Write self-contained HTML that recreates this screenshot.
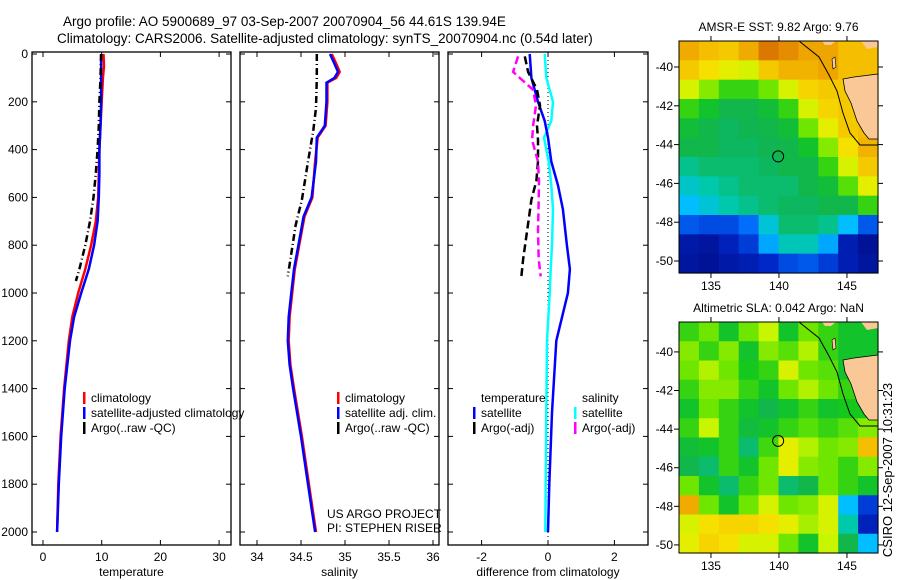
<!DOCTYPE html>
<html><head><meta charset="utf-8"><style>
html,body{margin:0;padding:0;background:#fff;}
svg{display:block;font-family:"Liberation Sans",Arial,sans-serif;}
</style></head><body>
<svg id="fig" width="900" height="580" viewBox="0 0 900 580" xmlns="http://www.w3.org/2000/svg">
<text x="63" y="26" font-size="13.5">Argo profile: AO 5900689_97 03-Sep-2007 20070904_56 44.61S 139.94E</text>
<text x="57" y="43" font-size="13.5">Climatology: CARS2006. Satellite-adjusted climatology: synTS_20070904.nc (0.54d later)</text>
<text transform="translate(892,470) rotate(-90)" text-anchor="middle" font-size="13">CSIRO 12-Sep-2007 10:31:23</text>
<text x="327" y="518" font-size="12">US ARGO PROJECT</text>
<text x="327" y="532" font-size="12">PI: STEPHEN RISER</text>
</svg>
<script>
// ---- profile data ----
const depthTicks=[0,200,400,600,800,1000,1200,1400,1600,1800,2000];
const tempTicks=[0,10,20,30];
const salTicks=[34,34.5,35,35.5,36];
const diffTicks=[-2,0,2];
const climTDepth=[0,50,100,200,300,400,500,600,700,800,900,1000,1100,1200,1400,1600,1800,2000];
const climT=[10.3,10.4,10.2,10.0,9.8,9.6,9.5,9.4,9.0,8.2,7.2,6.0,5.0,4.4,3.6,3.0,2.6,2.4];
const satT=[9.9,9.9,9.9,9.9,9.8,9.6,9.6,9.5,9.3,8.7,7.8,6.5,5.3,4.6,3.7,3.1,2.7,2.4];
const argoDepth=[0,100,200,300,400,500,600,700,800,900,950];
const argoT=[9.9,9.8,9.6,9.5,9.3,9.0,8.6,8.0,7.2,6.2,5.6];
const climSDepth=[0,40,75,100,120,200,300,350,450,600,680,800,900,1000,1100,1200,1300,1400,1600,1800,2000];
const climS=[34.85,34.9,34.94,34.9,34.8,34.8,34.78,34.69,34.66,34.63,34.54,34.48,34.43,34.4,34.37,34.36,34.38,34.42,34.51,34.59,34.67];
const satS=[34.83,34.88,34.92,34.88,34.79,34.79,34.77,34.68,34.67,34.62,34.53,34.47,34.42,34.39,34.36,34.35,34.37,34.41,34.5,34.58,34.66];
const argoSDepth=[0,100,225,320,450,610,715,930];
const argoS=[34.68,34.68,34.67,34.64,34.58,34.51,34.44,34.35];
const diffDepth=[0,100,200,280,350,450,550,650,800,900,1000,1200,1500,1800,2000];
const satTDiff=[-0.55,-0.5,-0.3,-0.1,0.0,0.1,0.3,0.45,0.57,0.66,0.6,0.25,0.12,0.04,0.0];
const satSDiff=[-0.1,-0.05,0.15,0.1,-0.12,0.02,0.1,0.15,0.12,0.08,0.05,-0.03,-0.05,-0.07,-0.08];
const argoDiffDepth=[10,75,150,215,300,360,450,530,610,740,860,930];
const argoTDiff=[-0.7,-0.6,-0.33,-0.24,-0.33,-0.3,-0.3,-0.35,-0.5,-0.63,-0.75,-0.8];
const argoSDiff=[-0.9,-1.05,-0.45,-0.36,-0.45,-0.48,-0.3,-0.27,-0.28,-0.3,-0.28,-0.22];
// ---- map data (10 cols x 12 rows, normalised 0..1) ----
const sstGrid=[
[.85,.82,.8,.85,.94,.9,.86,.86,.82,.82],
[.8,.76,.72,.7,.8,.84,.84,.86,.82,.82],
[.7,.62,.55,.55,.6,.7,.78,.8,.8,.8],
[.55,.5,.45,.45,.48,.55,.7,.78,.8,.8],
[.48,.45,.43,.44,.45,.48,.6,.72,.8,.82],
[.45,.45,.43,.43,.44,.45,.5,.62,.76,.84],
[.4,.42,.42,.42,.43,.45,.45,.55,.7,.8],
[.36,.38,.4,.42,.42,.42,.45,.48,.58,.72],
[.32,.35,.38,.4,.42,.43,.43,.45,.45,.55],
[.22,.2,.2,.25,.35,.42,.42,.4,.32,.22],
[.08,.06,.12,.18,.3,.37,.37,.3,.1,.04],
[.06,.04,.08,.1,.15,.2,.22,.18,.1,.06]];
const slaGrid=[
[.55,.6,.5,.6,.68,.5,.6,.55,.5,.5],
[.62,.55,.62,.5,.62,.58,.66,.55,.5,.5],
[.6,.66,.6,.52,.55,.7,.6,.58,.5,.5],
[.55,.62,.62,.55,.5,.6,.66,.6,.55,.55],
[.5,.6,.55,.5,.45,.5,.55,.5,.52,.52],
[.55,.68,.55,.47,.5,.55,.58,.55,.58,.62],
[.48,.5,.55,.42,.56,.72,.66,.6,.62,.82],
[.45,.42,.55,.5,.6,.72,.62,.6,.55,.62],
[.6,.5,.42,.55,.6,.42,.45,.6,.55,.5],
[.85,.6,.5,.6,.7,.6,.62,.7,.32,.18],
[.7,.76,.78,.78,.76,.72,.65,.7,.38,.12],
[.72,.78,.76,.7,.7,.6,.5,.68,.45,.32]];
const latTicks=[-40,-42,-44,-46,-48,-50];
const lonTicks=[135,140,145];
const argoLon=139.94, argoLat=-44.61;

const NS='http://www.w3.org/2000/svg';
const svg=document.getElementById('fig');
function mk(tag,attrs,parent){const e=document.createElementNS(NS,tag);for(const k in attrs)e.setAttribute(k,attrs[k]);(parent||svg).appendChild(e);return e;}

const Y0=54,YS=(532-54)/2000;
const yD=d=>Y0+d*YS;
const panels=[
 {name:'temperature',L:32,R:231,x0:43,xs:5.87,v0:0,ticks:tempTicks,lab:'temperature'},
 {name:'salinity',L:240,R:439,x0:257,xs:88,v0:34,ticks:salTicks,lab:'salinity'},
 {name:'difference',L:448,R:648,x0:548,xs:33.2,v0:0,ticks:diffTicks,lab:'difference from climatology'}];
const T=52,B=545;
panels.forEach((p,i)=>{
 p.x=v=>p.x0+(v-p.v0)*p.xs;
 const g=mk('g',{});
 
 
 const r=mk('rect',{x:p.L,y:T,width:p.R-p.L,height:B-T,fill:'none',stroke:'#000','stroke-width':1.3},g);
 
 
 p.ticks.forEach(t=>{const x=p.x(t);
  mk('line',{x1:x,x2:x,y1:T,y2:T+5,stroke:'#000'},g);mk('line',{x1:x,x2:x,y1:B,y2:B-5,stroke:'#000'},g);
  const tl=mk('text',{x:x,y:B+16,'text-anchor':'middle','font-size':12},g);tl.textContent=t;
  
  });
 depthTicks.forEach(d=>{const y=yD(d);
  mk('line',{x1:p.L,x2:p.L+5,y1:y,y2:y,stroke:'#000'},g);mk('line',{x1:p.R,x2:p.R-5,y1:y,y2:y,stroke:'#000'},g);
  if(i===0){const tl=mk('text',{x:28,y:y+4,'text-anchor':'end','font-size':12},g);tl.textContent=d;
   
   }});
 const xl=mk('text',{x:(p.L+p.R)/2,y:576,'text-anchor':'middle','font-size':12},g);xl.textContent=p.lab;
 
 
});
function line(p,depths,vals,color,w,dash,name){
 const pts=vals.map((v,i)=>p.x(v).toFixed(1)+','+yD(depths[i]).toFixed(1)).join(' ');
 const l=mk('polyline',{points:pts,fill:'none',stroke:color,'stroke-width':w,'stroke-dasharray':dash||'none'});
 
 
}
const [pT,pS,pD]=panels;
line(pT,climTDepth,climT,'#f00',2.5,null,'temperature-climatology-line');
line(pT,climTDepth,satT,'#00f',2.5,null,'temperature-satellite-line');
line(pT,argoDepth,argoT,'#000',2.5,'7,3,1,3','temperature-argo-line');
line(pS,climSDepth,climS,'#f00',2.5,null,'salinity-climatology-line');
line(pS,climSDepth,satS,'#00f',2.5,null,'salinity-satellite-line');
line(pS,argoSDepth,argoS,'#000',2.5,'7,3,1,3','salinity-argo-line');
mk('line',{x1:pD.x(0),x2:pD.x(0),y1:T,y2:B,stroke:'#000','stroke-width':1,'stroke-dasharray':'1,3'});
line(pD,diffDepth,satSDiff,'#0ff',2.5,null,'salinity-satellite-diff-line');
line(pD,diffDepth,satTDiff,'#00f',2.5,null,'temperature-satellite-diff-line');
line(pD,argoDiffDepth,argoTDiff,'#000',2.5,'8,4','temperature-argo-diff-line');
line(pD,argoDiffDepth,argoSDiff,'#f0f',2.5,'8,4','salinity-argo-diff-line');

function legend(x,y,color,text,name){
 const g=mk('g',{});
 
 
 mk('rect',{x:x,y:y-10,width:2.5,height:12,fill:color},g);
 const t=mk('text',{x:x+8,y:y,'font-size':12},g);t.textContent=text;
}
legend(83,402,'#f00','climatology','legend-temp-climatology');
legend(83,417,'#00f','satellite-adjusted climatology','legend-temp-satellite');
legend(83,432,'#000','Argo(..raw -QC)','legend-temp-argo');
legend(337,402,'#f00','climatology','legend-sal-climatology');
legend(337,417,'#00f','satellite adj. clim.','legend-sal-satellite');
legend(337,432,'#000','Argo(..raw -QC)','legend-sal-argo');
{const t=mk('text',{x:481,y:402,'font-size':12});t.textContent='temperature';
 
 
 const s=mk('text',{x:582,y:402,'font-size':12});s.textContent='salinity';
 
 }
legend(473,417,'#00f','satellite','legend-diff-temp-satellite');
legend(473,432,'#000','Argo(-adj)','legend-diff-temp-argo');
legend(574,417,'#0ff','satellite','legend-diff-sal-satellite');
legend(574,432,'#f0f','Argo(-adj)','legend-diff-sal-argo');

// ---- maps ----
const stops=[[0,[0,10,130]],[.15,[0,40,200]],[.25,[0,110,250]],[.32,[0,190,255]],[.38,[0,200,170]],[.44,[16,180,80]],[.52,[20,200,30]],[.6,[110,230,0]],[.68,[200,245,0]],[.74,[245,235,0]],[.82,[245,190,0]],[.9,[230,140,0]],[1,[200,90,0]]];
function cmap(v){for(let i=1;i<stops.length;i++){if(v<=stops[i][0]){const a=stops[i-1],b=stops[i],f=(v-a[0])/(b[0]-a[0]);return 'rgb('+a[1].map((c,k)=>Math.round(c+(b[1][k]-c)*f)).join(',')+')';}}return 'rgb(200,90,0)';}
function drawMap(M){
 const L=679,R=878,W=R-L,H=M.B-M.T;
 const lx=lon=>L+(lon-M.lon0)*M.lonS, ly=lat=>M.T+(M.lat0-lat)*M.latS;
 const g=mk('g',{});
 
 
 const rows=M.grid.length,cols=M.grid[0].length;
 M.grid.forEach((row,r)=>row.forEach((v,c)=>{
  const cell=mk('rect',{x:L+c*W/cols,y:M.T+r*H/rows,width:W/cols+0.6,height:H/rows+0.6,fill:cmap(v)},g);
  
  }));
 const o=(dx,dy)=>(L+dx)+','+(M.T+dy);
 const land=mk('polygon',{points:[o(164,38),o(175,36),o(199,33),o(199,98),o(190,98),o(185,92),o(178,80),o(172,62),o(166,50)].join(' '),fill:'#f9c896',stroke:'#000','stroke-width':0.8},g);
 
 
 mk('polygon',{points:[o(143,0),o(157,0),o(152,4),o(146,4)].join(' '),fill:'#f9c896'},g);
 mk('polygon',{points:[o(182,0),o(199,0),o(199,6),o(188,8)].join(' '),fill:'#f9c896'},g);
 mk('polygon',{points:[o(153,18),o(156,16),o(157,26),o(154,28)].join(' '),fill:'#f9c896',stroke:'#000','stroke-width':0.6},g);
 mk('polyline',{points:[o(120,0),o(140,16),o(150,34),o(158,50),o(164,72),o(171,92),o(181,104),o(199,104)].join(' '),fill:'none',stroke:'#000','stroke-width':1},g);
 const c=mk('circle',{cx:lx(argoLon),cy:ly(argoLat),r:5.5,fill:'none',stroke:'#000','stroke-width':1},g);
 
 
 mk('rect',{x:L,y:M.T,width:W,height:H,fill:'none',stroke:'#000','stroke-width':1},g);
 latTicks.forEach(t=>{const y=ly(t);
  mk('line',{x1:L,x2:L-5,y1:y,y2:y,stroke:'#000'},g);mk('line',{x1:R,x2:R+5,y1:y,y2:y,stroke:'#000'},g);
  const tl=mk('text',{x:L-6,y:y+4,'text-anchor':'end','font-size':12},g);tl.textContent=t;
  
  });
 lonTicks.forEach(t=>{const x=lx(t);
  mk('line',{x1:x,x2:x,y1:M.T,y2:M.T-5,stroke:'#000'},g);mk('line',{x1:x,x2:x,y1:M.B,y2:M.B+5,stroke:'#000'},g);
  const tl=mk('text',{x:x,y:M.B+17,'text-anchor':'middle','font-size':12},g);tl.textContent=t;
  
  });
 const tt=mk('text',{x:(L+R)/2,y:M.T-10,'text-anchor':'middle','font-size':12},g);tt.textContent=M.title;
 
 
}
drawMap({name:'sst-map',T:41,B:273,lon0:132.65,lonS:13.6,lat0:-38.66,latS:19.4,grid:sstGrid,title:'AMSR-E SST: 9.82 Argo: 9.76'});
drawMap({name:'sla-map',T:322,B:553,lon0:132.65,lonS:13.6,lat0:-38.45,latS:19.3,grid:slaGrid,title:'Altimetric SLA: 0.042 Argo: NaN'});
</script>
</body></html>
